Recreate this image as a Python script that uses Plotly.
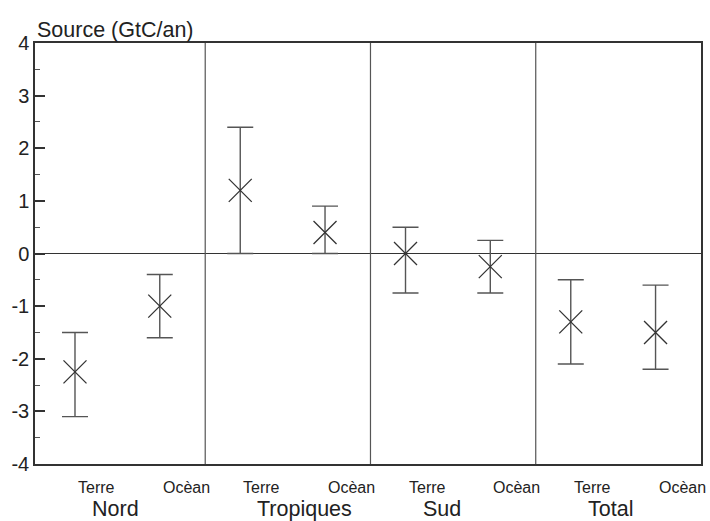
import plotly.graph_objects as go

regions = ["Nord", "Tropiques", "Sud", "Total"]
kinds = ["Terre", "Ocèan"]
# values per (region, kind)
centers = [-2.25, -1.0, 1.2, 0.4, 0.0, -0.25, -1.3, -1.5]
upper = [-1.5, -0.4, 2.4, 0.9, 0.5, 0.25, -0.5, -0.6]
lower = [-3.1, -1.6, 0.0, 0.0, -0.75, -0.75, -2.1, -2.2]
y_ticks = [-4, -3, -2, -1, 0, 1, 2, 3, 4]
y_title = "Source (GtC/an)"

offsets = [0.212, 0.725]
xs = []
for i, r in enumerate(regions):
    for j, k in enumerate(kinds):
        xs.append(i + offsets[j])

err_plus = [u - c for u, c in zip(upper, centers)]
err_minus = [c - l for c, l in zip(centers, lower)]

fig = go.Figure()
fig.add_trace(go.Scatter(
    x=xs, y=centers, mode="markers",
    marker=dict(symbol="x-thin", size=23, color="#333333",
                line=dict(width=1.3, color="#333333")),
    error_y=dict(type="data", symmetric=False, array=err_plus,
                 arrayminus=err_minus, color="#555555", thickness=1.4, width=13),
    showlegend=False, hoverinfo="skip",
))

for i in range(1, len(regions)):
    fig.add_vline(x=i, line=dict(color="#555555", width=1.2))

font_family = "Liberation Sans, Arial, sans-serif"
annotations = []
for i, r in enumerate(regions):
    for j, k in enumerate(kinds):
        annotations.append(dict(x=i + offsets[j], y=-0.057, xref="x", yref="paper",
                                text=k, showarrow=False, xanchor="left", xshift=1,
                                yanchor="middle",
                                font=dict(size=16, color="#222222", family=font_family)))
    annotations.append(dict(x=i + offsets[0], y=-0.108,
                            xref="x", yref="paper", text=r, showarrow=False,
                            xanchor="left", xshift=15, yanchor="middle",
                            font=dict(size=21.5, color="#222222", family=font_family)))
annotations.append(dict(x=0, y=1.0, xref="paper", yref="paper", text=y_title,
                        showarrow=False, xanchor="left", yanchor="bottom", yshift=-1,
                        font=dict(size=21.5, color="#222222", family=font_family)))

fig.update_layout(
    width=710, height=521,
    margin=dict(l=35, r=7, t=43, b=57),
    plot_bgcolor="white", paper_bgcolor="white",
    font=dict(family=font_family, color="#222222"),
    annotations=annotations,
    xaxis=dict(range=[-0.03, len(regions)], showline=True, linecolor="#333333",
               linewidth=1.5, mirror=True, showgrid=False, zeroline=False,
               showticklabels=False, ticks=""),
    yaxis=dict(range=[-4, 4], tickvals=y_ticks, ticktext=[str(v) for v in y_ticks],
               ticks="inside", ticklen=10, tickwidth=1.5, tickcolor="#333333",
               minor=dict(dtick=0.5, ticks="inside", ticklen=5, tickwidth=1.2,
                          tickcolor="#555555"),
               showline=True, linecolor="#333333", linewidth=1.5, mirror=True,
               showgrid=False, zeroline=True, zerolinecolor="#333333",
               zerolinewidth=1.2, tickfont=dict(size=20, color="#222222")),
)

fig.write_html("out.html", config={"displayModeBar": False},
               post_script="document.body.style.margin='0';document.body.style.overflow='hidden';")
